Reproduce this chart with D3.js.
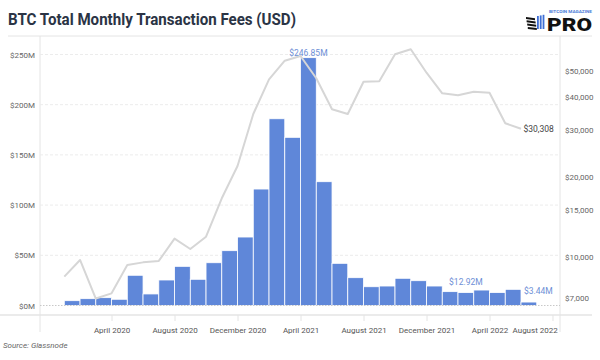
<!DOCTYPE html>
<html>
<head>
<meta charset="utf-8">
<script src="https://cdn.jsdelivr.net/npm/d3@7"></script>
<style>
  html, body { margin: 0; padding: 0; background: #fff; }
  svg { display: block; font-family: Roboto, "Open Sans", sans-serif; }
</style>
</head>
<body>
<svg id="chart" width="600" height="360"></svg>
<script>
// ---- data ----
const months = ["2020-01","2020-02","2020-03","2020-04","2020-05","2020-06","2020-07","2020-08","2020-09","2020-10","2020-11","2020-12",
  "2021-01","2021-02","2021-03","2021-04","2021-05","2021-06","2021-07","2021-08","2021-09","2021-10","2021-11","2021-12",
  "2022-01","2022-02","2022-03","2022-04","2022-05","2022-06"];
const feesUSDm = [4.8, 6.8, 7.8, 6.2, 30.1, 11.5, 25.4, 39.0, 26.1, 42.6, 54.6, 68.2,
  116.0, 186.0, 167.5, 246.85, 123.3, 42.0, 27.7, 18.7, 19.4, 27.1, 24.7, 19.4,
  13.8, 12.92, 15.4, 12.9, 16.1, 3.44];
const btcPrice = [8400, 9710, 6950, 7270, 9300, 9510, 9630, 11680, 10680, 11880, 16580, 21930,
  34430, 46520, 54670, 56930, 46940, 35870, 34430, 45560, 45700, 57810, 60360, 49270,
  41200, 40550, 41790, 41430, 31770, 30308];
const leftTicks = [0, 50, 100, 150, 200, 250];
const rightTicks = [7000, 10000, 15000, 20000, 30000, 40000, 50000];
const xTickIndex = [3, 7, 11, 15, 19, 23, 27, 31];
const xTickLabels = ["April 2020","August 2020","December 2020","April 2021","August 2021","December 2021","April 2022","August 2022"];
const feeAnnotIdx = [15, 25, 29];
const priceAnnotIdx = [29];

// ---- layout ----
const svg = d3.select("#chart");
const plotL = 40, plotR = 560, axisY = 315;

const x = d3.scaleLinear().domain([0, months.length]).range([64.3, 536.75]);
const y = d3.scaleLinear().domain([0, 250]).range([305.5, 54.5]);
const y2 = d3.scaleLog().domain([7000, 50000]).range([297.7, 71]);

// frame lines
const frame = svg.append("g").attr("stroke", "#e4e4e4").attr("fill", "none");
frame.append("line").attr("x1", 8).attr("x2", 592).attr("y1", 36).attr("y2", 36);
frame.append("line").attr("x1", 0).attr("x2", 592).attr("y1", axisY).attr("y2", axisY).attr("stroke-width", 1.5);
frame.append("line").attr("x1", plotL).attr("x2", plotL).attr("y1", 36).attr("y2", 332);
frame.append("line").attr("x1", plotR).attr("x2", plotR).attr("y1", 36).attr("y2", 332);

// gridlines
svg.append("g").selectAll("line").data(leftTicks.filter(d => d > 0)).join("line")
  .attr("x1", plotL).attr("x2", plotR)
  .attr("y1", d => y(d)).attr("y2", d => y(d))
  .attr("stroke", "#ececec").attr("stroke-dasharray", "3,2");

// bars
svg.append("g").selectAll("rect").data(feesUSDm).join("rect")
  .attr("x", (d, i) => x(i))
  .attr("width", (d, i) => x(i + 1) - x(i))
  .attr("y", d => y(d))
  .attr("height", d => y(0) - y(d))
  .attr("fill", "#5f87d9")
  .attr("stroke", "#fff").attr("stroke-width", 0.8);

// zero line
svg.append("line").attr("x1", plotL).attr("x2", plotR).attr("y1", y(0)).attr("y2", y(0))
  .attr("stroke", "#c8c8c8").attr("stroke-dasharray", "1.5,1.5");

// price line
const line = d3.line().x((d, i) => x(i)).y(d => y2(d));
svg.append("path").datum(btcPrice).attr("d", line)
  .attr("fill", "none").attr("stroke", "#d6d6d6").attr("stroke-width", 2).attr("stroke-linejoin", "round");

// left axis
const gL = svg.append("g").attr("transform", `translate(${plotL},0)`)
  .call(d3.axisLeft(y).tickValues(leftTicks).tickSize(0).tickPadding(5).tickFormat(d => `$${d}M`));
gL.select(".domain").remove();
gL.selectAll("text").attr("fill", "#666").attr("font-size", 8).attr("font-family", "Roboto, sans-serif");

// right axis
const gR = svg.append("g").attr("transform", `translate(${plotR},0)`)
  .call(d3.axisRight(y2).tickValues(rightTicks).tickSize(0).tickPadding(5).tickFormat(d => "$" + d3.format(",")(d)));
gR.select(".domain").remove();
gR.selectAll("text").attr("fill", "#666").attr("font-size", 8).attr("font-family", "Roboto, sans-serif");

// bottom axis
const gB = svg.append("g").attr("transform", `translate(0,${axisY})`)
  .call(d3.axisBottom(x).tickValues(xTickIndex).tickSize(6).tickPadding(6)
    .tickFormat((d, i) => xTickLabels[i]));
gB.select(".domain").remove();
gB.selectAll(".tick line").attr("stroke", "#e4e4e4");
gB.selectAll("text").attr("fill", "#555").attr("font-size", 8).attr("font-family", "Roboto, sans-serif");
gB.selectAll(".tick").each(function() {
  const t = d3.select(this).select("text");
  const bb = t.node().getBBox();
  const tr = d3.select(this).attr("transform");
  const tx = +tr.match(/translate\(([-\d.]+)/)[1];
  if (tx + bb.width / 2 > 558) t.attr("dx", 558 - (tx + bb.width / 2));
});

// annotations
const fmtM = d => "$" + d3.format(".2f")(d) + "M";
svg.append("g").selectAll("text").data(feeAnnotIdx).join("text")
  .attr("x", i => x(i + 0.5))
  .attr("y", i => Math.max(y(feesUSDm[i]) - 8, 56))
  .attr("text-anchor", i => i === months.length - 1 ? "start" : "middle")
  .attr("dx", i => i === months.length - 1 ? -5 : 0)
  .attr("fill", "#6e8fd6").attr("font-size", 8.5)
  .text(i => fmtM(feesUSDm[i]));

svg.append("g").selectAll("text").data(priceAnnotIdx).join("text")
  .attr("x", i => x(i) + 2.5)
  .attr("y", i => y2(btcPrice[i]) + 3)
  .attr("fill", "#444").attr("font-size", 8.5)
  .text(i => "$" + d3.format(",")(btcPrice[i]));

// title
svg.append("text").attr("x", 8).attr("y", 25)
  .attr("font-family", "Roboto, sans-serif").attr("font-weight", 700).attr("font-size", 17)
  .attr("fill", "#2b3445")
  .attr("textLength", 288).attr("lengthAdjust", "spacingAndGlyphs")
  .text("BTC Total Monthly Transaction Fees (USD)");

// source
svg.append("text").attr("x", 3).attr("y", 348)
  .attr("font-style", "italic").attr("font-size", 8).attr("fill", "#666")
  .text("Source: Glassnode");

// logo
const logo = svg.append("g");
[0, 1, 2, 3].forEach(k => {
  logo.append("path").attr("d", `M${526 + k*0.6},${17 + k*3.3} l9,1.2 l0,2 l-9,-1.2 z`).attr("fill", "#111");
});
[0, 1, 2].forEach(k => {
  logo.append("rect").attr("x", 537 + k*2.8).attr("y", 16 - k*0.6).attr("width", 1.8).attr("height", 13 + k*0.6).attr("fill", "#3f6fd6");
});
logo.append("text").attr("x", 547).attr("y", 31).attr("font-family", "Roboto, sans-serif")
  .attr("font-weight", 900).attr("font-size", 19).attr("fill", "#111")
  .attr("textLength", 45).attr("lengthAdjust", "spacingAndGlyphs").text("PRO");
logo.append("text").attr("x", 549).attr("y", 13.3).attr("font-family", "Roboto, sans-serif")
  .attr("font-weight", 700).attr("font-size", 4).attr("fill", "#4a7bd8")
  .attr("textLength", 43).attr("lengthAdjust", "spacingAndGlyphs").text("BITCOIN MAGAZINE");
</script>
</body>
</html>
